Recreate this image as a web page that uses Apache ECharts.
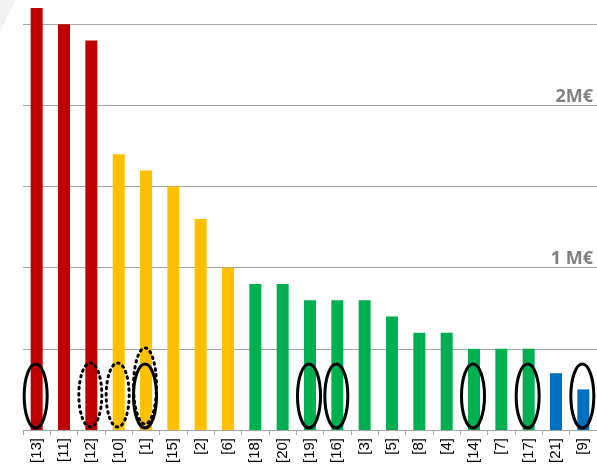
<!DOCTYPE html>
<html>
<head>
<meta charset="utf-8">
<script src="https://cdn.jsdelivr.net/npm/echarts@6/dist/echarts.min.js"></script>
<style>
  html, body { margin: 0; padding: 0; background: #fff; }
  #chart { width: 597px; height: 467px; }
</style>
</head>
<body>
<div id="chart"></div>
<script>
  // categories (project numbers) and amounts in M€
  var categories = ['[13]', '[11]', '[12]', '[10]', '[1]', '[15]', '[2]', '[6]', '[18]', '[20]', '[19]',
    '[16]', '[3]', '[5]', '[8]', '[4]', '[14]', '[7]', '[17]', '[21]', '[9]'];
  var values = [2.6, 2.5, 2.4, 1.7, 1.6, 1.5, 1.3, 1.0, 0.9, 0.9, 0.8,
    0.8, 0.8, 0.7, 0.6, 0.6, 0.5, 0.5, 0.5, 0.35, 0.25];
  // colour group of each bar
  var groups = ['r', 'r', 'r', 'o', 'o', 'o', 'o', 'o', 'g', 'g', 'g',
    'g', 'g', 'g', 'g', 'g', 'g', 'g', 'g', 'b', 'b'];
  var groupColors = { r: '#c00000', o: '#ffc000', g: '#00b050', b: '#0070c0' };
  // right-hand value labels
  var labelValues = [1, 2];
  var labelTexts = ['1 M€', '2M€'];
  // annotations drawn round the bottom of some bars
  var solidMarks = ['[13]', '[1]', '[19]', '[16]', '[14]', '[17]', '[9]'];
  var dottedMarks = ['[12]', '[10]', '[1]'];

  var chart = echarts.init(document.getElementById('chart'));

  chart.setOption({
    animation: false,
    grid: { left: 23, right: -3, top: 0, bottom: 37 },
    xAxis: {
      type: 'category',
      data: categories,
      axisLine: { lineStyle: { color: '#a6a6a6', width: 1 } },
      axisTick: { show: true, length: 5, lineStyle: { color: '#a6a6a6' } },
      axisLabel: {
        rotate: 90, interval: 0, margin: 8,
        color: '#000', fontSize: 15, fontFamily: 'Liberation Sans'
      }
    },
    yAxis: {
      type: 'value',
      position: 'right',
      min: 0, max: 2.65, interval: 0.5,
      axisLine: { show: false },
      axisTick: { show: false },
      splitLine: { showMaxLine: false, lineStyle: { color: '#a6a6a6', width: 1 } },
      axisLabel: {
        inside: true, margin: 4,
        verticalAlign: 'bottom',
        color: '#7f7f7f', fontSize: 18, fontWeight: 'bold', fontFamily: 'Open Sans',
        formatter: function (v) {
          var i = labelValues.indexOf(v);
          return i >= 0 ? labelTexts[i] : '';
        }
      }
    },
    series: [{
      type: 'bar',
      barWidth: 12,
      data: values.map(function (v, i) {
        return { value: v, itemStyle: { color: groupColors[groups[i]] } };
      })
    }]
  });

  // ellipses around the bars' feet
  function ellipse(cat, cy, ry, dotted) {
    var p = chart.convertToPixel({ xAxisIndex: 0 }, cat);
    return {
      type: 'ellipse',
      shape: { cx: p - 1, cy: cy, rx: 11.5, ry: ry },
      style: dotted
        ? { fill: null, stroke: '#000', lineWidth: 3, lineDash: [1.5, 4.5], lineCap: 'round' }
        : { fill: null, stroke: '#000', lineWidth: 3 },
      z: 100
    };
  }
  var shapes = [{
    type: 'polygon',
    shape: { points: [[0, 0], [16, 0], [0, 31]] },
    style: { fill: '#f2f2f2' }
  }];
  dottedMarks.forEach(function (c) {
    shapes.push(c === '[1]' ? ellipse(c, 386, 38, true) : ellipse(c, 395, 32, true));
  });
  solidMarks.forEach(function (c) {
    shapes.push(ellipse(c, 396, 32, false));
  });
  chart.setOption({ graphic: shapes });
</script>
</body>
</html>
